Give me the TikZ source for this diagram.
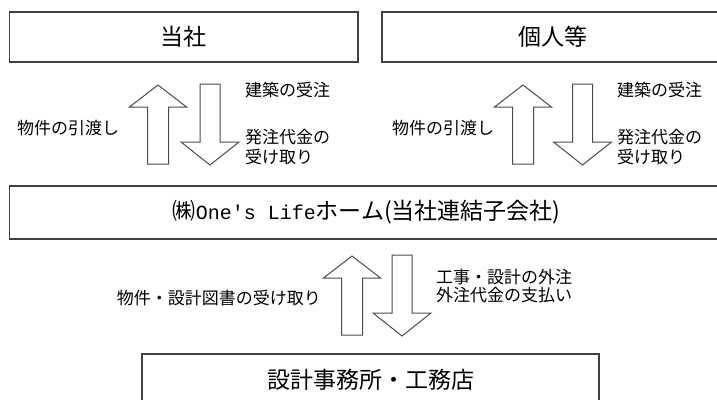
\documentclass[tikz,border=0pt]{standalone}
\usepackage{fontspec}
\setmainfont{Noto Sans CJK JP}
\newfontfamily\latinmono{Liberation Mono}
\usetikzlibrary{positioning}
\tikzset{
  blk/.style={draw=black!75, line width=1.1pt, font=\fontsize{23}{23}\selectfont, inner sep=0pt},
  lbl/.style={font=\fontsize{17}{20}\selectfont, inner sep=0pt, align=left},
  arr/.style={draw=black!70, line width=1pt, fill=white},
  uparr/.pic={\path[arr] (0,0) -- (28.5,22) -- (10.5,22) -- (10.5,79) -- (-10.5,79) -- (-10.5,22) -- (-28.5,22) -- cycle;},
  downarr/.pic={\path[arr] (0,0) -- (29,-23) -- (10,-23) -- (10,-81) -- (-10,-81) -- (-10,-23) -- (-29,-23) -- cycle;}
}
\begin{document}
\begin{tikzpicture}[x=1pt, y=-1pt]
\useasboundingbox (0,0) rectangle (717,399);
\clip (0,0) rectangle (717,399);
% boxes
\node[blk, minimum width=348.5pt, minimum height=50pt] (tosha) at (183.75,37) {当社};
\node[blk, minimum width=342pt, minimum height=50pt] (kojin) at (553,37) {個人等};
\node[blk, minimum width=714.5pt, minimum height=53pt] (lifehome) at (366.75,212.5)
  {㈱{\latinmono\fontsize{20}{20}\selectfont One's Life}ホーム(当社連結子会社)};
\node[blk, minimum width=457pt, minimum height=52pt] (sekkei) at (370.5,380) {設計事務所・工務店};
% arrows
\pic at (158,85) {uparr};
\pic at (210,165) {downarr};
\pic at (523,85) {uparr};
\pic at (582.5,165) {downarr};
\pic at (352,256) {uparr};
\pic at (402,336) {downarr};
% labels
\node[lbl, anchor=west] (hikiwatashiA) at (17,128) {物件の引渡し};
\node[lbl, anchor=west] (juchuA) at (245,90) {建築の受注};
\node[lbl, anchor=west] (daikinA) at (245,147) {発注代金の\\受け取り};
\node[lbl, anchor=west] (hikiwatashiB) at (392,128) {物件の引渡し};
\node[lbl, anchor=west] (juchuB) at (617,90) {建築の受注};
\node[lbl, anchor=west] (daikinB) at (617,147) {発注代金の\\受け取り};
\node[lbl, anchor=east] (uketori) at (321,298) {物件・設計図書の受け取り};
\node[lbl, anchor=west, font=\fontsize{17}{18}\selectfont] (gaichu) at (436,286) {工事・設計の外注\\外注代金の支払い};
\end{tikzpicture}
\end{document}
